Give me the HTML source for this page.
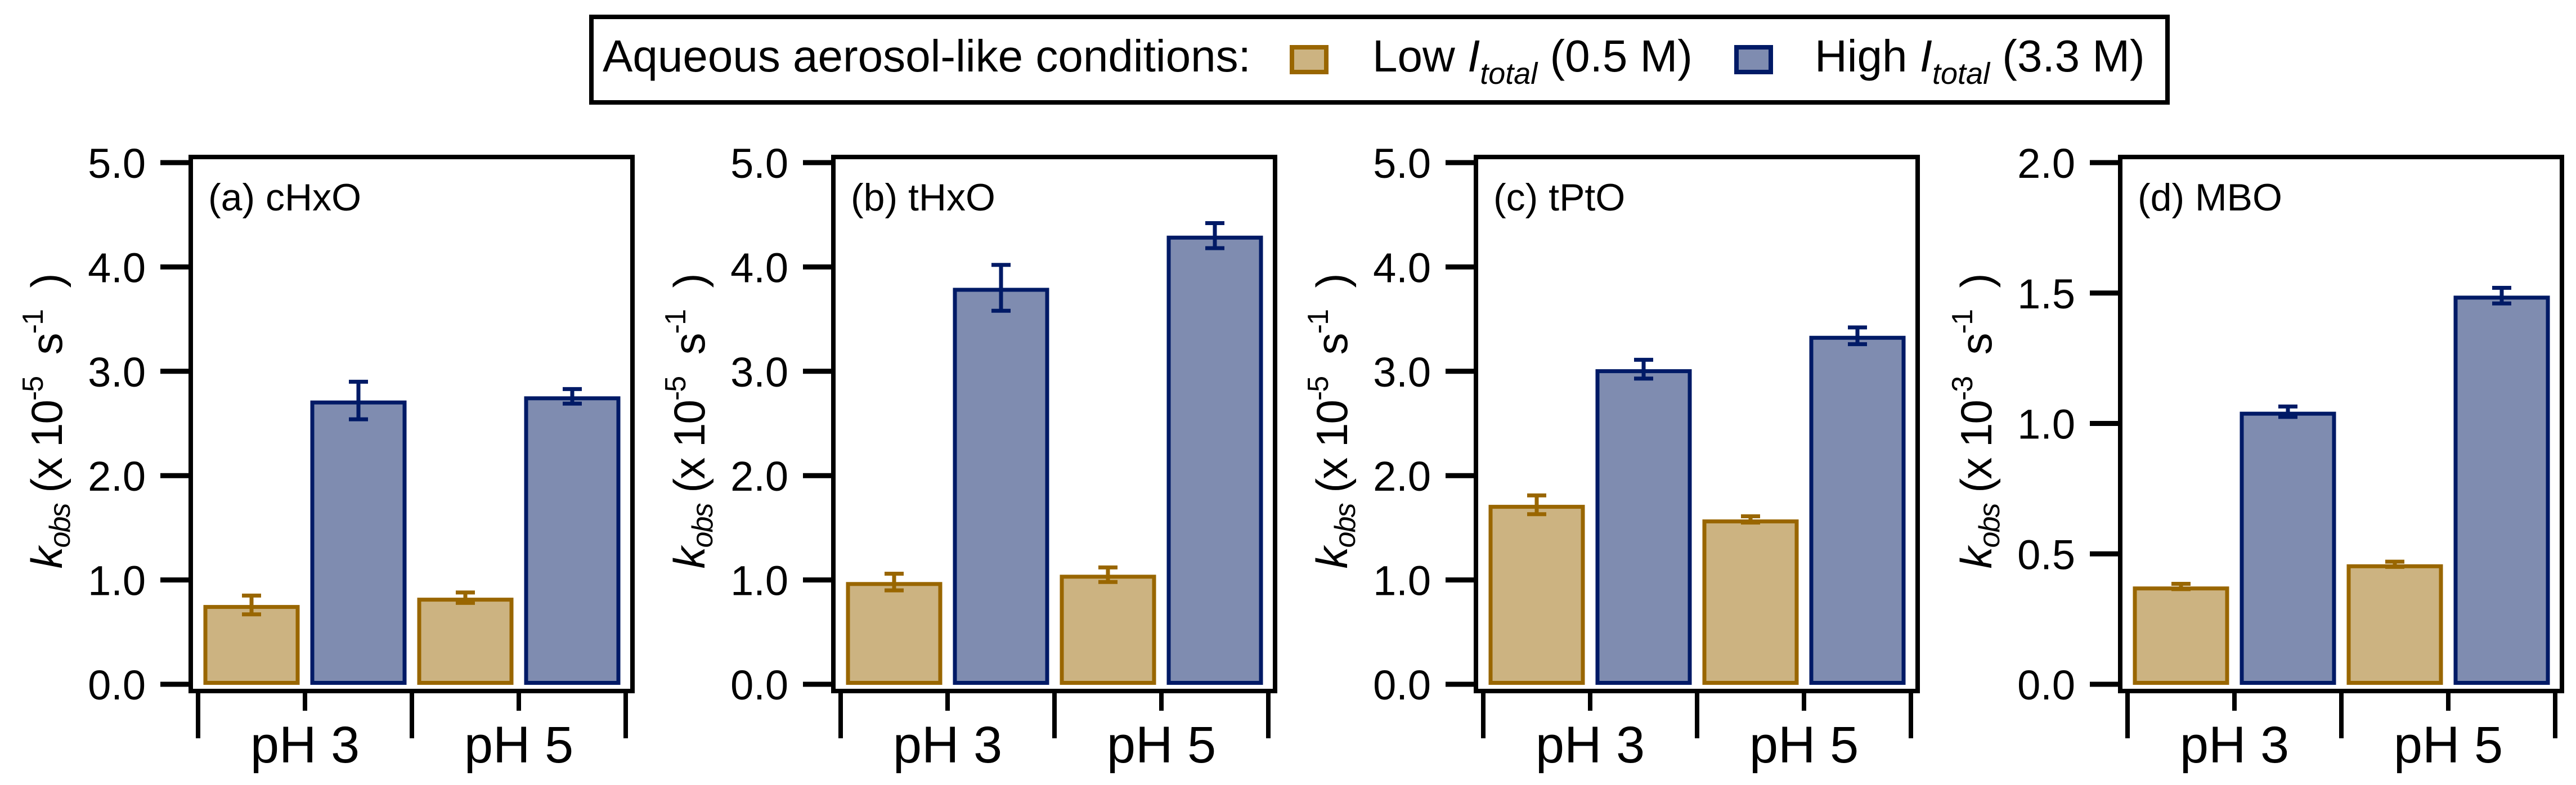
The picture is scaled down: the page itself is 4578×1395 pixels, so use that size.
<!DOCTYPE html>
<html><head><meta charset="utf-8"><style>
html,body{margin:0;padding:0;background:#fff;}
svg{display:block;font-family:"Liberation Sans",Arial,sans-serif;}
</style></head><body>
<svg id="chart" width="4578" height="1395" viewBox="0 0 4578 1395" xmlns="http://www.w3.org/2000/svg">
<g>
  <rect x="1051" y="30" width="2801" height="152" fill="#fff" stroke="#000" stroke-width="8"/>
  <text x="1071" y="127" font-size="80">Aqueous aerosol-like conditions:</text>
  <rect x="2296" y="84" width="61" height="44" fill="#CCB381" stroke="#996600" stroke-width="8"/>
  <text x="2439" y="127" font-size="80">Low <tspan font-style="italic">I</tspan><tspan font-style="italic" font-size="54" dy="22">total</tspan><tspan dy="-22"> (0.5 M)</tspan></text>
  <rect x="3086" y="84" width="61" height="44" fill="#7F8CB0" stroke="#001A66" stroke-width="8"/>
  <text x="3225" y="127" font-size="80">High <tspan font-style="italic">I</tspan><tspan font-style="italic" font-size="54" dy="22">total</tspan><tspan dy="-22"> (3.3 M)</tspan></text>
</g>
</svg>
<script>
const panelLabels = ["(a) cHxO", "(b) tHxO", "(c) tPtO", "(d) MBO"];
const categories = ["pH 3", "pH 5"];
const yMax = [5, 5, 5, 2];
const yTicksA = [0, 1, 2, 3, 4, 5];
const yTicksD = [0, 0.5, 1, 1.5, 2];
const tickLabelsA = ["0.0", "1.0", "2.0", "3.0", "4.0", "5.0"];
const tickLabelsD = ["0.0", "0.5", "1.0", "1.5", "2.0"];
const exponents = ["-5", "-5", "-5", "-3"];
const lowVals = [[0.76, 0.83], [0.98, 1.05], [1.72, 1.58], [0.375, 0.46]];
const highVals = [[2.72, 2.76], [3.80, 4.30], [3.02, 3.34], [1.045, 1.49]];
const lowErr = [[0.09, 0.05], [0.08, 0.07], [0.09, 0.03], [0.01, 0.01]];
const highErr = [[0.18, 0.07], [0.22, 0.12], [0.09, 0.08], [0.02, 0.03]];

const NS = "http://www.w3.org/2000/svg";
const svg = document.getElementById("chart");
const frameLefts = [339, 1481, 2623, 3768];
const FW = 785, FT = 279, FB = 1228, Y0 = 1216, YT = 289;
function mk(tag, attrs, parent) {
  const e = document.createElementNS(NS, tag);
  for (const k in attrs) e.setAttribute(k, attrs[k]);
  parent.appendChild(e);
  return e;
}
const LOWF = "#CCB381", LOWS = "#996600", HIF = "#7F8CB0", HIS = "#001A66";

for (let p = 0; p < 4; p++) {
  const fl = frameLefts[p];
  const yScale = v => Y0 - (v / yMax[p]) * (Y0 - YT);
  const g = mk("g", {}, svg);
  
  

  const ticks = p === 3 ? yTicksD : yTicksA;
  const tl = p === 3 ? tickLabelsD : tickLabelsA;
  ticks.forEach((t, i) => {
    const y = yScale(t);
    const ln = mk("line", {x1: fl - 54, x2: fl, y1: y, y2: y, stroke: "#000", "stroke-width": 9}, g);
    
    
    const tx = mk("text", {x: fl - 80, y: y + 27, "font-size": 74, "text-anchor": "end"}, g);
    
    
    tx.textContent = tl[i];
  });

  const vals = [lowVals[p][0], highVals[p][0], lowVals[p][1], highVals[p][1]];
  const errs = [lowErr[p][0], highErr[p][0], lowErr[p][1], highErr[p][1]];
  vals.forEach((v, i) => {
    const low = i % 2 === 0;
    const xL = fl + 26 + 190 * i;
    const yT = yScale(v) + 3.5;
    const r = mk("rect", {x: xL, y: yT, width: 164, height: Math.max(0, 1213.5 - yT), fill: low ? LOWF : HIF, stroke: low ? LOWS : HIS, "stroke-width": 7}, g);
    
    
    const cx = xL + 82;
    const y1 = yScale(v + errs[i]), y2 = yScale(v - errs[i]);
    const eg = mk("g", {stroke: low ? LOWS : HIS, "stroke-width": 7}, g);
    
    
    mk("line", {x1: cx, x2: cx, y1: y1, y2: y2}, eg);
    mk("line", {x1: cx - 17, x2: cx + 17, y1: y1, y2: y1}, eg);
    mk("line", {x1: cx - 17, x2: cx + 17, y1: y2, y2: y2}, eg);
  });

  const fr = mk("rect", {x: fl, y: FT, width: FW, height: FB - FT, fill: "none", stroke: "#000", "stroke-width": 8}, g);
  
  

  for (let i = 0; i < 5; i++) {
    const x = fl + 13 + 190 * i;
    const ln = mk("line", {x1: x, x2: x, y1: FB, y2: i % 2 === 0 ? 1312 : 1263, stroke: "#000", "stroke-width": 8}, g);
    
    
  }
  categories.forEach((c, i) => {
    const tx = mk("text", {x: fl + 203 + 380 * i, y: 1355, "font-size": 92, "text-anchor": "middle"}, g);
    
    
    tx.textContent = c;
  });

  const pl = mk("text", {x: fl + 31, y: 374, "font-size": 68}, g);
  
  
  pl.textContent = panelLabels[p];

  const yl = mk("text", {transform: "translate(" + (fl - 229) + ",748) rotate(-90)", "font-size": 78, "text-anchor": "middle", textLength: 525, lengthAdjust: "spacing"}, g);
  
  
  yl.innerHTML = '<tspan font-style="italic">k</tspan><tspan font-style="italic" font-size="52" dy="14">obs</tspan><tspan dy="-14"> (x 10</tspan><tspan font-size="52" dy="-34">' + exponents[p] + '</tspan><tspan dy="34">\u00a0\u00a0s</tspan><tspan font-size="52" dy="-34">-1</tspan><tspan dy="34">\u00a0\u00a0)</tspan>';
}
</script>
</body></html>
